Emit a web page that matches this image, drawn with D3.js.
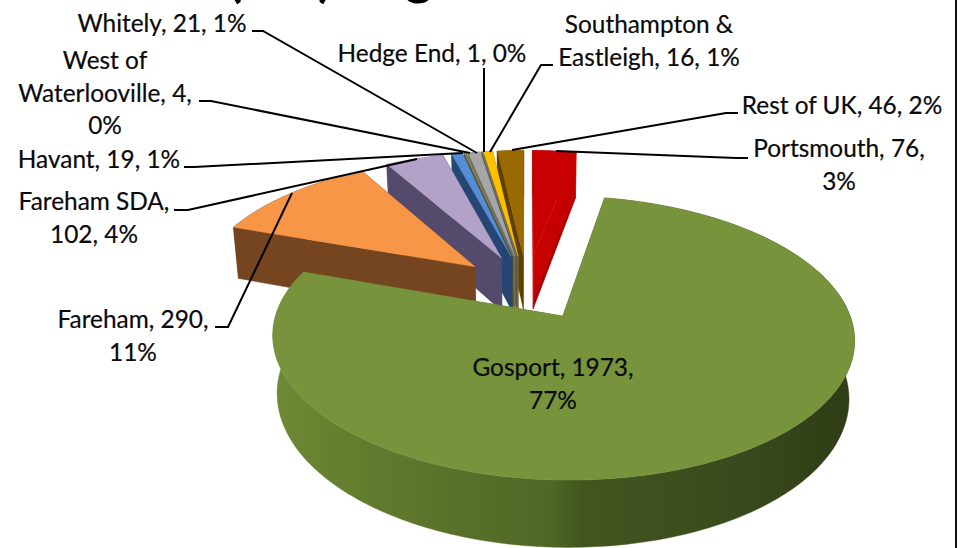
<!DOCTYPE html>
<html><head><meta charset="utf-8">
<script src="https://cdn.jsdelivr.net/npm/d3@7/dist/d3.min.js"></script>
<style>html,body{margin:0;padding:0;background:#fff;overflow:hidden}svg{display:block}</style>
</head><body><svg id="c" width="963" height="548"></svg>
<script>
// ---- data ----
const categories = ["Portsmouth","Gosport","Fareham","Fareham SDA","Havant","West of Waterlooville","Whitely","Hedge End","Southampton & Eastleigh","Rest of UK"];
const values     = [76,1973,290,102,19,4,21,1,16,46];
const percents   = ["3%","77%","11%","4%","1%","0%","1%","0%","1%","2%"];

// ---- styles ----
const topColors  = ["#C80000","#77933C","#F79646","#B3A2C7","#558ED5","#8A8552","#A6A6A6","#7F7F7F","#FFC000","#996A00"];
const sideColors = ["url(#redWall)","url(#greenWall)","#74451F","#544A6B","#254573","#4E4B2C","#6B6F70","#555555","#8A6C00","#5C4000"];

// label layout: [centre x, first baseline, line texts], same order as categories
const labelLayout = [
  [839,157,["Portsmouth, 76,","3%"]],
  [553,376,["Gosport, 1973,","77%"]],
  [133,328,["Fareham, 290,","11%"]],
  [94,210,["Fareham SDA,","102, 4%"]],
  [99,168,["Havant, 19, 1%"]],
  [105,69,["West of","Waterlooville, 4,","0%"]],
  [162,32,["Whitely, 21, 1%"]],
  [432,62,["Hedge End, 1, 0%"]],
  [649,33,["Southampton &","Eastleigh, 16, 1%"]],
  [842,114,["Rest of UK, 46, 2%"]]
];
// leader polylines, same order as categories (null = none)
const leaders = [
  [[748,158],[736,158],[556,151]],
  null,
  [[215,327],[228,327],[292,193]],
  [[174,210],[188,210],[417,159]],
  [[184,167],[194,167],[463,153]],
  [[199,101],[211,101],[470,153]],
  [[252,31],[263,31],[477,153]],
  [[484,68],[484,152]],
  [[553,65],[541,65],[490,152]],
  [[738,113],[726,113],[512,150]]
];

// ---- projection of the tilted pie ----
const X0=527, A=278, A2=A*0.983, K=0.15, HY=-578, H=865, DH=55, EXPLODE=0.25;
const proj=(u,v,bottom)=>{const s=1/(1+K*v);
  return [X0+(bottom?A2:A)*u*s, HY+(H+(bottom?DH:0))*s];};

const svg=d3.select("#c");
const defs=svg.append("defs");
const g=defs.append("linearGradient").attr("id","greenWall").attr("gradientUnits","userSpaceOnUse")
  .attr("x1",273).attr("x2",855).attr("y1",0).attr("y2",0);
[[0,"#6F8A35"],[.1,"#66802F"],[.3,"#59722A"],[.48,"#4F6625"],[.53,"#42551F"],[.8,"#3A4A1C"],[1,"#2F3C16"]]
 .forEach(([o,c])=>g.append("stop").attr("offset",o).attr("stop-color",c));
const r=defs.append("linearGradient").attr("id","redWall").attr("gradientUnits","userSpaceOnUse")
  .attr("x1",577).attr("y1",152).attr("x2",595).attr("y2",159);
[[0,"#C80000"],[.66,"#C40000"],[.76,"#A00000"],[1,"#8E0000"]]
 .forEach(([o,c])=>r.append("stop").attr("offset",o).attr("stop-color",c));

// title cut off by the top of the picture: only the descenders remain
svg.append("g").attr("font-family","Lato, 'Open Sans', sans-serif").attr("font-weight",700).attr("font-size",52).attr("fill","#000")
  .selectAll("text").data([["(",228,-4],[")",318,-4],["g",405,-6]]).join("text")
  .attr("x",d=>d[1]).attr("y",d=>d[2]).text(d=>d[0]);

const pie=d3.pie().sort(null).value(d=>d).startAngle(0).endAngle(2*Math.PI);
const arcs=pie(values);
const line=d3.line().curve(d3.curveLinearClosed);
const pieG=svg.append("g");

const order=[0,9,8,7,6,5,4,3,2,1];
order.forEach(i=>{
  const a=arcs[i], mid=(a.startAngle+a.endAngle)/2;
  const cu=EXPLODE*Math.sin(mid), cv=EXPLODE*Math.cos(mid);
  const n=Math.max(2,Math.ceil((a.endAngle-a.startAngle)*60));
  const ang=d3.range(n+1).map(k=>a.startAngle+(a.endAngle-a.startAngle)*k/n);
  const rim=b=>ang.map(t=>proj(cu+Math.sin(t),cv+Math.cos(t),b));
  const cT=proj(cu,cv,false), cB=proj(cu,cv,true);
  const rT=rim(false), rB=rim(true);
  const side=sideColors[i];
  // radial walls
  [[cT,rT[0],rB[0],cB],[cT,rT[n],rB[n],cB]].forEach(q=>
    pieG.append("path").attr("d",line(q)).attr("fill",side).attr("stroke",side).attr("stroke-width",.4));
  // rim wall
  pieG.append("path").attr("d",line(rT.concat(rB.slice().reverse()))).attr("fill",side).attr("stroke",side).attr("stroke-width",.4);
  // top face
  pieG.append("path").attr("d",line([cT].concat(rT))).attr("fill",topColors[i]).attr("stroke",topColors[i]).attr("stroke-width",.4);
});

// leaders
const lineOpen=d3.line();
svg.append("g").selectAll("path").data(leaders.filter(Boolean)).join("path")
  .attr("d",lineOpen).attr("fill","none").attr("stroke","#000").attr("stroke-width",2);

// labels
const LH=32.5;
const lab=svg.append("g").attr("font-family","Lato, 'Open Sans', sans-serif").attr("font-size",24.4).attr("fill","#0a0a0a").attr("stroke","#0a0a0a").attr("stroke-width",.2).attr("text-anchor","middle");
labelLayout.forEach(([x,y,lines])=>{
  lines.forEach((t,j)=>lab.append("text").attr("x",x).attr("y",y+j*LH).text(t));
});

// frame line at the right
svg.append("line").attr("x1",956).attr("x2",956).attr("y1",0).attr("y2",548).attr("stroke","#111").attr("stroke-width",2);
</script></body></html>
